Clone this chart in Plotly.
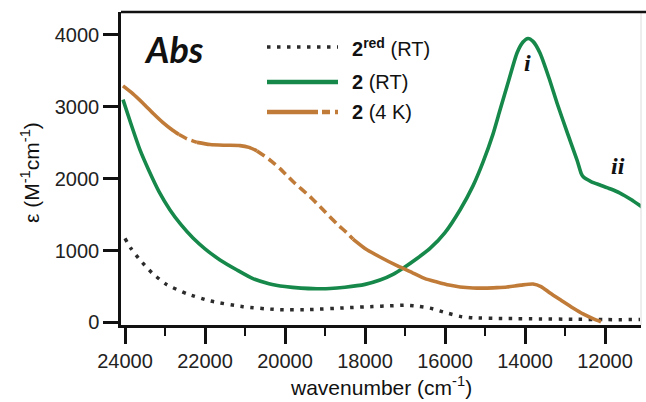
import plotly.graph_objects as go

# ---------------- data ----------------
wn_red = [24000, 23850, 23625, 23325, 22950, 22450, 21875, 21050, 20200, 19400,
          18450, 17800, 17375, 16950, 16650, 16375, 15950, 15625, 15300, 14500,
          13625, 12800, 11950, 11125]
eps_red = [1170, 1030, 870, 690, 525, 400, 300, 220, 180, 180,
           205, 222, 232, 240, 225, 200, 132, 85, 65, 55,
           50, 45, 40, 40]

wn_rt = [24050, 23850, 23625, 23400, 23150, 22875, 22600, 22300, 22000, 21625,
         21200, 20800, 20400, 20000, 19600, 19200, 18875, 18500, 18000, 17625,
         17300, 17050, 16700, 16375, 16000, 15625, 15300, 15050, 14800, 14625,
         14400, 14200, 14050, 13925, 13800, 13625, 13400, 13200, 12950, 12700,
         12600, 12550, 12350, 12125, 11875, 11625, 11350, 11075]
eps_rt = [3100, 2760, 2400, 2110, 1820, 1565, 1360, 1175, 1025, 870,
          730, 610, 540, 500, 478, 470, 472, 490, 530, 590,
          670, 755, 890, 1030, 1250, 1565, 1900, 2230, 2620, 2955,
          3380, 3748, 3900, 3950, 3910, 3748, 3400, 3053, 2650, 2260,
          2080, 2030, 1960, 1912, 1860, 1800, 1710, 1606]

wn_4k = [24050, 23800, 23550, 23300, 23050, 22800, 22650, 22450, 22200, 21875,
         21500, 21125, 20900, 20700, 20400, 20125, 19800, 19375, 19000, 18700,
         18450, 18300, 18000, 17625, 17200, 16800, 16500, 16200, 15900, 15625,
         15300, 15000, 14700, 14450, 14100, 13800, 13600, 13375, 13100, 12800,
         12550, 12300, 12100]
eps_4k = [3290, 3180, 3050, 2910, 2780, 2670, 2615, 2555, 2505, 2475,
          2465, 2460, 2435, 2385, 2270, 2140, 1960, 1750, 1540, 1370,
          1245, 1160, 1030, 911, 790, 688, 610, 563, 520, 494,
          480, 478, 485, 494, 520, 535, 500, 410, 310, 202,
          120, 55, 10]
# wavenumbers where the 4 K trace switches between solid and dashed
breaks_4k = [22650, 22200, 20700, 18300]

x_ticks = [24000, 22000, 20000, 18000, 16000, 14000, 12000]
y_ticks = [0, 1000, 2000, 3000, 4000]

legend_labels = ["<b>2<sup>red</sup></b> (RT)", "<b>2</b> (RT)", "<b>2</b> (4 K)"]

# ---------------- style ----------------
C_RED = "#2b2b2b"
C_RT = "#15884a"
C_4K = "#c07b38"
FONT = "Liberation Sans, Arial, sans-serif"

W, H = 646, 402
L, R, T, B = 121, 5, 12, 77
PW, PH = W - L - R, H - T - B


def px(xp):
    return (xp - L) / PW


def py(yp):
    return (H - B - yp) / PH


fig = go.Figure()

fig.add_trace(go.Scatter(x=wn_red, y=eps_red, mode="lines", name="2red (RT)",
                         line=dict(color=C_RED, width=3.5, dash="3.5px,6.5px",
                                   shape="spline", smoothing=0.6),
                         showlegend=False))
fig.add_trace(go.Scatter(x=wn_rt, y=eps_rt, mode="lines", name="2 (RT)",
                         line=dict(color=C_RT, width=3.6, shape="spline", smoothing=0.6),
                         showlegend=False))

idx = [0] + [wn_4k.index(b) for b in breaks_4k] + [len(wn_4k) - 1]
for k in range(len(idx) - 1):
    a, b = idx[k], idx[k + 1] + 1
    fig.add_trace(go.Scatter(x=wn_4k[a:b], y=eps_4k[a:b], mode="lines", name="2 (4 K)",
                             line=dict(color=C_4K, width=3.6,
                                       dash="solid" if k % 2 == 0 else "9px,5px",
                                       shape="spline", smoothing=0.6),
                             showlegend=False))

# ---------------- manual legend ----------------
leg_rows = [47, 82, 112]
leg_styles = [dict(color=C_RED, width=3.5, dash="3.5px,6.5px"),
              dict(color=C_RT, width=4.5),
              dict(color=C_4K, width=4.5, dash="51px,4px,8px,5px,3px,60px")]
shapes = []
annotations = []
for yy, st, lab in zip(leg_rows, leg_styles, legend_labels):
    shapes.append(dict(type="line", xref="paper", yref="paper",
                       x0=px(267), x1=px(338), y0=py(yy), y1=py(yy), line=st))
    annotations.append(dict(xref="paper", yref="paper", x=px(350), y=py(yy),
                            xanchor="left", yanchor="middle", showarrow=False,
                            text=lab, font=dict(family=FONT, size=20, color="#111")))

# faint right frame edge
shapes.append(dict(type="line", xref="paper", yref="paper", x0=1, x1=1, y0=0, y1=1,
                   line=dict(color="#dcdcdc", width=1)))

annotations += [
    dict(xref="paper", yref="paper", x=px(174), y=py(49), text="<b><i>Abs</i></b>",
         showarrow=False, xanchor="center", yanchor="middle",
         font=dict(family="Lato, Open Sans, sans-serif", size=36, color="#111")),
    dict(xref="paper", yref="paper", x=px(527), y=py(63), text="<b><i>i</i></b>",
         showarrow=False, xanchor="center", yanchor="middle",
         font=dict(family="Liberation Serif, serif", size=24, color="#111")),
    dict(xref="paper", yref="paper", x=px(618), y=py(166), text="<b><i>ii</i></b>",
         showarrow=False, xanchor="center", yanchor="middle",
         font=dict(family="Liberation Serif, serif", size=24, color="#111")),
    dict(xref="paper", yref="paper", x=px(381), y=py(386),
         text="wavenumber (cm<sup>-1</sup>)", showarrow=False,
         xanchor="center", yanchor="middle",
         font=dict(family=FONT, size=21, color="#111")),
    dict(xref="paper", yref="paper", x=px(30), y=py(173),
         text="ε (M<sup>-1</sup>cm<sup>-1</sup>)", showarrow=False, textangle=-90,
         xanchor="center", yanchor="middle",
         font=dict(family=FONT, size=21, color="#111")),
]

fig.update_layout(
    width=W, height=H,
    margin=dict(l=L, r=R, t=T, b=B),
    paper_bgcolor="white", plot_bgcolor="white",
    showlegend=False,
    shapes=shapes, annotations=annotations,
    xaxis=dict(range=[24100, 11100], tickvals=x_ticks,
               ticktext=[str(v) for v in x_ticks],
               ticks="outside", ticklen=16, tickwidth=2.5, tickcolor="#111",
               minor=dict(dtick=1000, tick0=0, ticks="outside", ticklen=8,
                          tickwidth=2, tickcolor="#111", showgrid=False),
               showline=True, linecolor="#111", linewidth=2.5, mirror=False,
               showgrid=False, zeroline=False,
               tickfont=dict(family=FONT, size=20, color="#222")),
    yaxis=dict(range=[-35, 4318], tickvals=y_ticks,
               ticks="outside", ticklen=15, tickwidth=2.5, tickcolor="#111",
               showline=True, linecolor="#111", linewidth=2.5,
               showgrid=False, zeroline=False,
               tickfont=dict(family=FONT, size=20, color="#222")),
)
# top frame line
fig.add_shape(type="line", xref="paper", yref="paper", x0=0, x1=1.02, y0=1, y1=1,
              line=dict(color="#111", width=2.5))

fig.write_html("out.html")
